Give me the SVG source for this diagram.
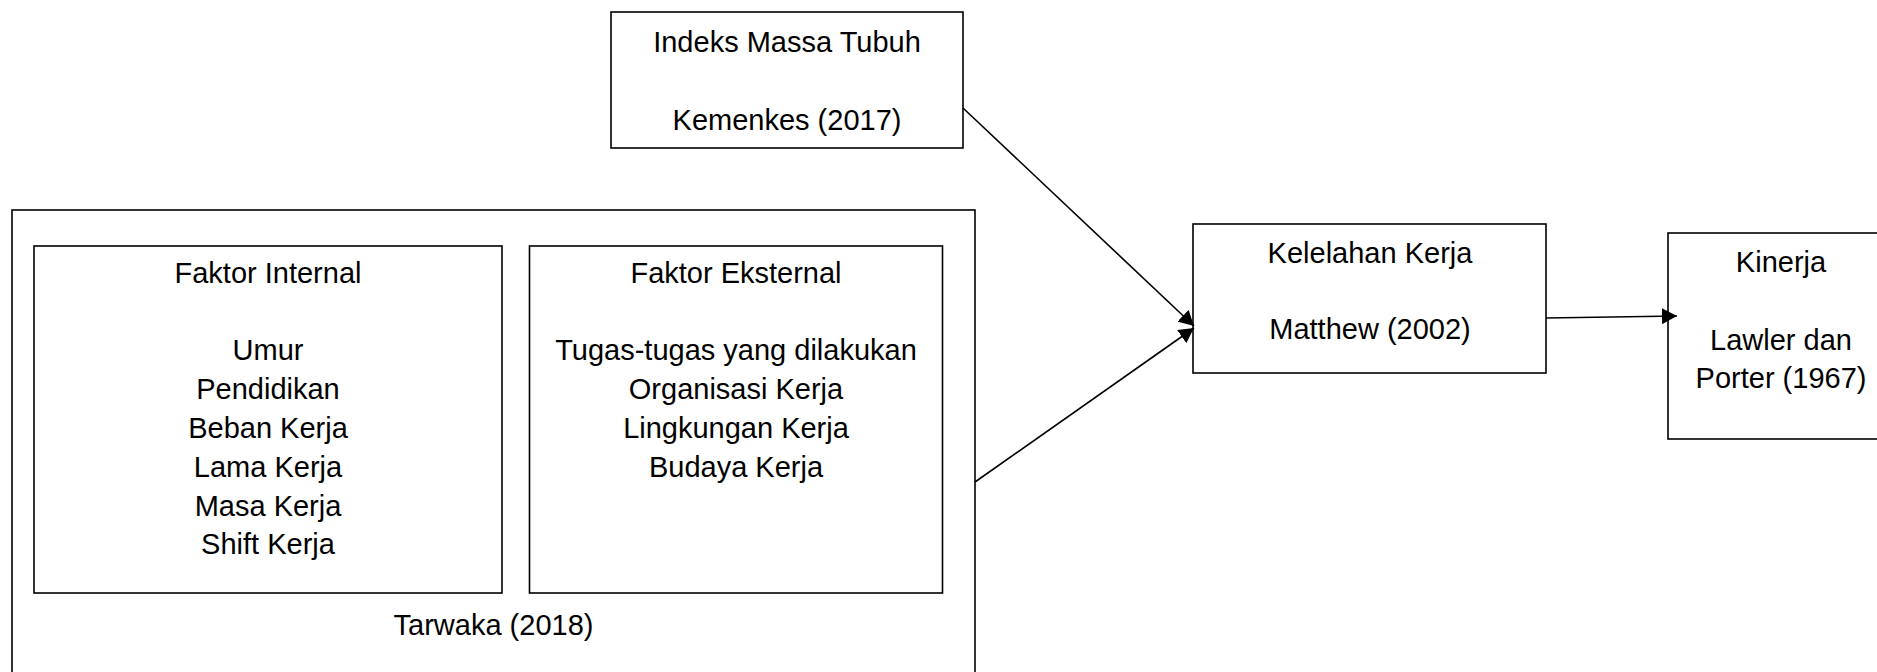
<svg xmlns="http://www.w3.org/2000/svg" width="1877" height="672" viewBox="0 0 1877 672">
<style>
.box{fill:#fff;stroke:#000;stroke-width:1.6}
.t{font-family:"Liberation Sans",Arial,sans-serif;font-size:29px;fill:#000;text-anchor:middle}
.conn{stroke:#000;stroke-width:1.6;fill:none;marker-end:url(#arr)}
</style>
<defs>
<marker id="arr" markerUnits="userSpaceOnUse" markerWidth="16" markerHeight="16" refX="15" refY="8" orient="auto">
<path d="M0,0 L15,8 L0,16 z" fill="#000"/>
</marker>
</defs>
<rect width="1877" height="672" fill="#fff"/>
<g id="node-imt">
<rect class="box" x="611" y="12" width="352" height="136"/>
<text class="t" x="787" y="52">Indeks Massa Tubuh</text>
<text class="t" x="787" y="130">Kemenkes (2017)</text>
</g>
<g id="node-tarwaka">
<rect class="box" x="12" y="210" width="963" height="470"/>
<text class="t" x="493.5" y="635">Tarwaka (2018)</text>
</g>
<g id="node-internal">
<rect class="box" x="34" y="246" width="468" height="347"/>
<text class="t" x="268" y="283">Faktor Internal</text>
<text class="t" x="268" y="360">Umur</text>
<text class="t" x="268" y="399">Pendidikan</text>
<text class="t" x="268" y="438">Beban Kerja</text>
<text class="t" x="268" y="477">Lama Kerja</text>
<text class="t" x="268" y="516">Masa Kerja</text>
<text class="t" x="268" y="554">Shift Kerja</text>
</g>
<g id="node-eksternal">
<rect class="box" x="529.5" y="246" width="413" height="347"/>
<text class="t" x="736" y="283">Faktor Eksternal</text>
<text class="t" x="736" y="360">Tugas-tugas yang dilakukan</text>
<text class="t" x="736" y="399">Organisasi Kerja</text>
<text class="t" x="736" y="438">Lingkungan Kerja</text>
<text class="t" x="736" y="477">Budaya Kerja</text>
</g>
<g id="node-kelelahan">
<rect class="box" x="1193" y="224" width="353" height="149"/>
<text class="t" x="1370" y="263">Kelelahan Kerja</text>
<text class="t" x="1370" y="339">Matthew (2002)</text>
</g>
<g id="node-kinerja">
<rect class="box" x="1668" y="233" width="240" height="206"/>
<text class="t" x="1781" y="272">Kinerja</text>
<text class="t" x="1781" y="350">Lawler dan</text>
<text class="t" x="1781" y="388">Porter (1967)</text>
</g>
<g id="connectors">
<line class="conn" x1="963" y1="108" x2="1194" y2="326"/>
<line class="conn" x1="975" y1="482" x2="1194" y2="328"/>
<line class="conn" x1="1546" y1="318" x2="1677" y2="316"/>
</g>
</svg>
